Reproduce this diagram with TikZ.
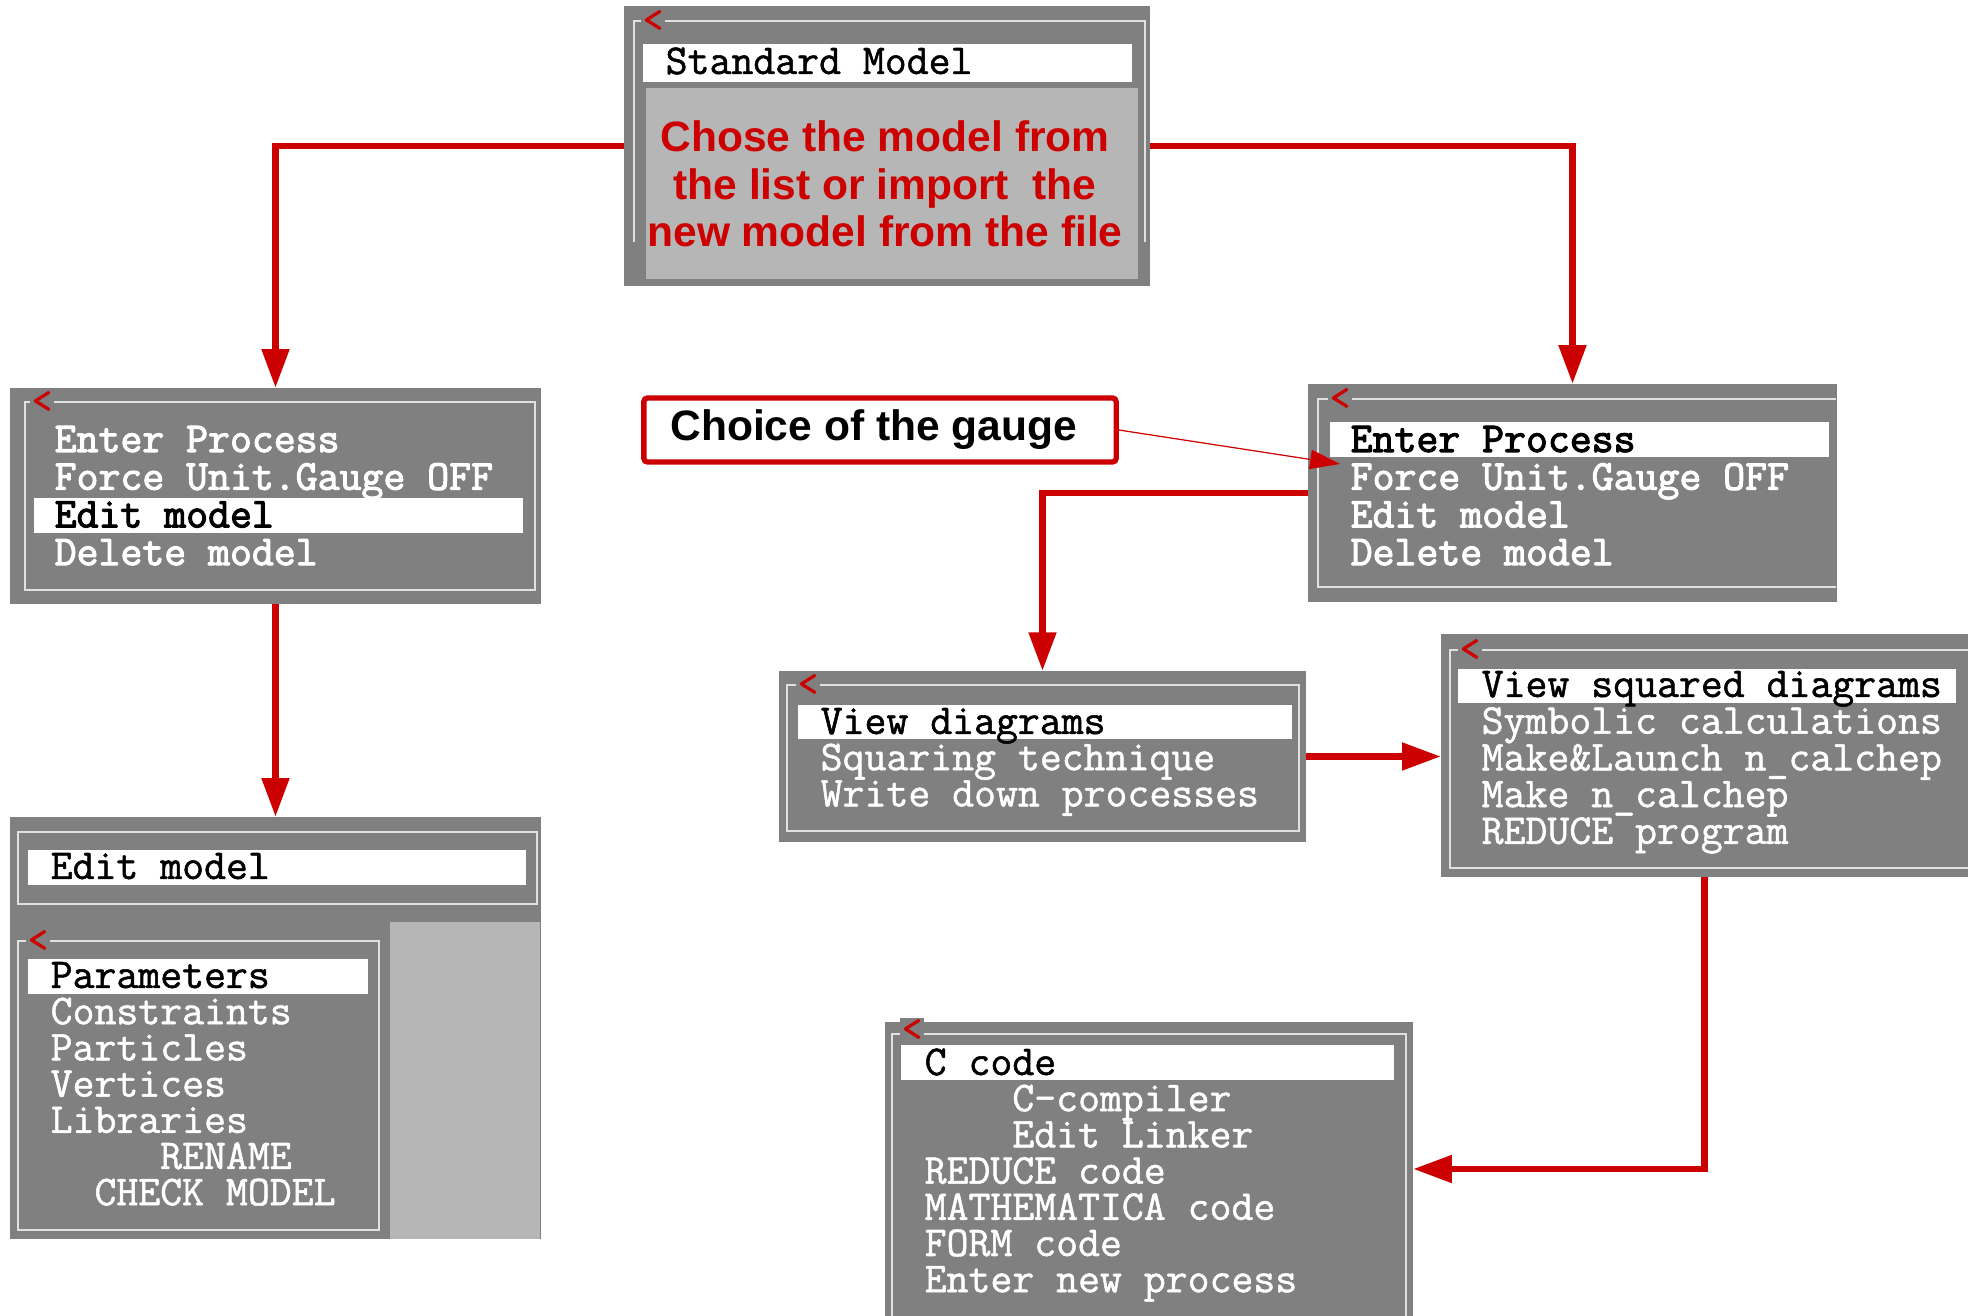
\documentclass[tikz,border=0pt]{standalone}
\usepackage{fontspec}
\setmainfont{Liberation Sans}
\newfontfamily\scrfont{Latin Modern Mono}[FakeBold=1.2]
\newfontfamily\scrbold{Latin Modern Mono}[FakeBold=2.6]
\usetikzlibrary{arrows.meta,calc}

\definecolor{scrgray}{RGB}{128,128,128}
\definecolor{scrlight}{RGB}{182,182,182}
\definecolor{scrline}{RGB}{225,225,225}
\definecolor{flowred}{RGB}{204,0,0}

\tikzset{
  panel/.style={fill=scrgray, inner sep=0pt, outer sep=0pt},
  frameline/.style={draw=scrline, line width=0.6pt},
  hilite/.style={fill=white},
  menutext/.style={anchor=base west, inner sep=0pt, text=white, font=\scrfont\fontsize{12.1}{12}\selectfont},
  menubold/.style={menutext, font=\scrbold\fontsize{12.1}{12}\selectfont},
  chev/.style={text=flowred, fill=scrgray, inner sep=0.4pt, font=\scrfont\fontsize{11}{11}\selectfont},
  note/.style={align=center, text=flowred, inner sep=0pt, font=\bfseries\fontsize{12.1}{13.5}\selectfont},
  gaugebox/.style={draw=flowred, line width=1.5pt, fill=white, rounded corners=1pt, inner sep=0pt, font=\bfseries\fontsize{12.1}{14}\selectfont},
  flow/.style={draw=flowred, line width=1.9pt, -{Triangle[length=11pt,width=7.5pt]}},
  thinflow/.style={draw=flowred, line width=0.35pt, -{Triangle[length=8.5pt,width=5.5pt]}},
}

\begin{document}
\begin{tikzpicture}[x=0.01cm, y=-0.01cm]
  \useasboundingbox (0,0) rectangle (1968,1316);

  % Top panel: model list, covered by the note
  \node[panel, minimum width=5.26cm, minimum height=2.80cm] (top) at (887,146) {};
  \draw[frameline] (634,242) -- (634,21) -- (1145,21) -- (1145,242);
  \fill[hilite] (643,44) rectangle (1132,82);
  \node[menutext, text=black] (topsel) at (665,74) {Standard Model};
  \fill[scrlight] (646,88) rectangle (1138,279);
  \node[note] (topnote) at (885,184) {Chose the model from\\ the list or import\ \ the\\ new model from the file};
  \node[chev] (c0) at (653,21) {<};

  % Left main menu
  \node[panel, minimum width=5.31cm, minimum height=2.16cm] (menuL) at (275.5,496) {};
  \fill[hilite] (34,498) rectangle (523,533);
  \draw[frameline] (25,402) rectangle (535,590);
  \node[chev] (c1) at (42,402) {<};
  \foreach \txt/\col [count=\i from 0] in {Enter Process/white, Force Unit.Gauge OFF/white, Edit model/black, Delete model/white}
    \node[menubold, text=\col] (mL\i) at (54,{452+37.7*\i}) {\txt};

  % Edit model panel
  \node[panel, minimum width=5.30cm, minimum height=4.22cm] (editm) at (275.5,1028) {};
  \draw[frameline] (18,832) rectangle (537,904);
  \fill[hilite] (28,850) rectangle (526,885);
  \node[menutext, text=black] (edtitle) at (50,879) {Edit model};
  \fill[scrlight] (390,922) rectangle (540,1239);
  \draw[frameline] (18,941) rectangle (379,1230);
  \fill[hilite] (28,959) rectangle (368,994);
  \node[chev] (c2) at (38,941) {<};
  \foreach \txt/\col [count=\i from 0] in {Parameters/black, Constraints/white, Particles/white, Vertices/white, Libraries/white, \phantom{xxxxx}RENAME/white, \phantom{xx}CHECK MODEL/white}
    \node[menutext, text=\col] (ed\i) at (50,{988+36.2*\i}) {\txt};

  % Gauge remark
  \node[gaugebox, minimum width=4.72cm, minimum height=0.64cm] (gauge) at (880,430) {\hspace*{-3.6pt}Choice of the gauge};
  \coordinate (gaugetip) at (1340,464);

  % Right main menu
  \node[panel, minimum width=5.29cm, minimum height=2.18cm] (menuR) at (1572.5,493) {};
  \fill[hilite] (1330,422) rectangle (1829,457);
  \draw[frameline] (1836,399) -- (1318,399) -- (1318,587) -- (1836,587);
  \node[chev] (c3) at (1340,399) {<};
  \foreach \txt/\col [count=\i from 0] in {Enter Process/black, Force Unit.Gauge OFF/white, Edit model/white, Delete model/white}
    \node[menubold, text=\col] (mR\i) at (1350,{452+37.7*\i}) {\txt};

  % Diagram menu
  \node[panel, minimum width=5.27cm, minimum height=1.71cm] (view) at (1042.5,756.5) {};
  \fill[hilite] (798,705) rectangle (1292,739);
  \draw[frameline] (787,685) rectangle (1299,831);
  \node[chev] (c4) at (808,685) {<};
  \foreach \txt/\col [count=\i from 0] in {View diagrams/black, Squaring technique/white, Write down processes/white}
    \node[menutext, text=\col] (vw\i) at (820,{734+36.2*\i}) {\txt};

  % Squared diagram menu
  \node[panel, minimum width=5.27cm, minimum height=2.43cm] (sq) at (1704.5,755.5) {};
  \fill[hilite] (1458,669) rectangle (1956,703);
  \draw[frameline] (1968,650) -- (1450,650) -- (1450,868) -- (1968,868);
  \node[chev] (c5) at (1470,650) {<};
  \foreach \txt/\col [count=\i from 0] in {View squared diagrams/black, Symbolic calculations/white, Make\&Launch n\_calchep/white, Make n\_calchep/white, REDUCE program/white}
    \node[menutext, text=\col] (sq\i) at (1481,{697+36.7*\i}) {\txt};

  % Code menu
  \node[panel, minimum width=5.28cm, minimum height=2.94cm] (ccode) at (1149,1169) {};
  \draw[frameline] (892,1316) -- (892,1034) -- (1406,1034) -- (1406,1316);
  \fill[hilite] (901,1045) rectangle (1394,1080);
  \node[chev] (c6) at (912,1030) {<};
  \foreach \txt/\col [count=\i from 0] in {C code/black, \phantom{xxxx}C-compiler/white, \phantom{xxxx}Edit Linker/white, REDUCE code/white, MATHEMATICA code/white, FORM code/white, Enter new process/white}
    \node[menutext, text=\col] (cc\i) at (924,{1075+36.2*\i}) {\txt};

  % Flow arrows
  \draw[flow] (top.west) -| (menuL.north);
  \draw[flow] (top.east) -| (menuR.north);
  \draw[flow] (menuL.south) -- (editm.north);
  \draw[flow] (menuR.west) -| (view.north);
  \draw[flow] (view.east) -- (view.east -| sq.west);
  \draw[flow] (sq.south) |- (ccode.east);
  \draw[thinflow] (gauge.east) -- (gaugetip);
\end{tikzpicture}
\end{document}
